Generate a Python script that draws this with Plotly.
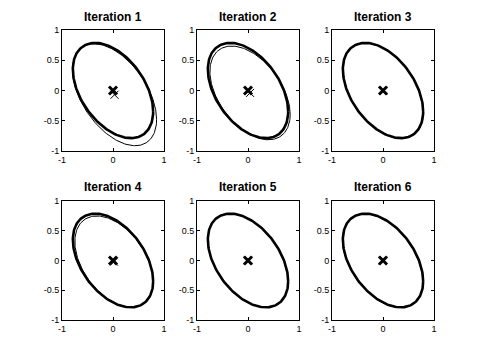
import numpy as np
import plotly.graph_objects as go

# true ellipse (thick): centre and covariance entries
true_mean = [0.0, 0.0]
true_cov = [0.62, 0.62, -0.275]  # s11, s22, s12

# estimated ellipse per iteration (thin)
titles = ["Iteration 1", "Iteration 2", "Iteration 3", "Iteration 4", "Iteration 5", "Iteration 6"]
est_mx = [0.03, 0.04, 0.005, 0.02, 0.0, -0.005]
est_my = [-0.07, -0.04, -0.005, -0.02, 0.0, -0.005]
est_s11 = [0.68, 0.62, 0.62, 0.59, 0.62, 0.62]
est_s22 = [0.71, 0.60, 0.62, 0.59, 0.62, 0.62]
est_s12 = [-0.34, -0.28, -0.275, -0.26, -0.275, -0.275]

y_ticks = [-1, -0.5, 0, 0.5, 1]
y_labels = ["-1", "-0.5", "0", "0.5", "1"]
x_ticks = [-1, 0, 1]
x_labels = ["-1", "0", "1"]

# page body has an 8px margin, so the figure sits at (8, 8)
OFF = 8
W, H = 480 - OFF, 360 - OFF
col_px = [(62, 164), (197, 299), (332, 434)]
row_px = [(30, 151), (201, 320)]
title_px = [17, 187]

t = np.linspace(0, 2 * np.pi, 200)


def ellipse(mx, my, s11, s22, s12):
    L = np.linalg.cholesky(np.array([[s11, s12], [s12, s22]]))
    pts = L @ np.vstack([np.cos(t), np.sin(t)])
    return mx + pts[0], my + pts[1]


fig = go.Figure()
annotations = []
for i, title in enumerate(titles):
    r, c = divmod(i, 3)
    n = "" if i == 0 else str(i + 1)
    xa, ya = "x" + n, "y" + n

    ex, ey = ellipse(est_mx[i], est_my[i], est_s11[i], est_s22[i], est_s12[i])
    fig.add_trace(go.Scatter(x=ex, y=ey, mode="lines", line=dict(color="black", width=1),
                             xaxis=xa, yaxis=ya, showlegend=False, hoverinfo="skip"))
    tx, ty = ellipse(true_mean[0], true_mean[1], *true_cov)
    fig.add_trace(go.Scatter(x=tx, y=ty, mode="lines", line=dict(color="black", width=2.6),
                             xaxis=xa, yaxis=ya, showlegend=False, hoverinfo="skip"))
    fig.add_trace(go.Scatter(x=[est_mx[i]], y=[est_my[i]], mode="markers",
                             marker=dict(symbol="x-thin", size=8, line=dict(color="black", width=1)),
                             xaxis=xa, yaxis=ya, showlegend=False))
    fig.add_trace(go.Scatter(x=[true_mean[0]], y=[true_mean[1]], mode="markers",
                             marker=dict(symbol="x-thin", size=8, line=dict(color="black", width=3)),
                             xaxis=xa, yaxis=ya, showlegend=False))

    x0, x1 = [p - OFF for p in col_px[c]]
    y0, y1 = [p - OFF for p in row_px[r]]
    axis_common = dict(showgrid=False, zeroline=False, showline=True, mirror="ticks",
                       linecolor="black", linewidth=1, ticks="inside", ticklen=3,
                       tickcolor="black", range=[-1, 1], automargin=False,
                       tickfont=dict(family="Liberation Sans, Arial", size=9, color="black"))
    fig.layout["xaxis" + n] = dict(axis_common, domain=[x0 / W, x1 / W], anchor=ya,
                                   tickvals=x_ticks, ticktext=x_labels)
    fig.layout["yaxis" + n] = dict(axis_common, domain=[1 - y1 / H, 1 - y0 / H], anchor=xa,
                                   tickvals=y_ticks, ticktext=y_labels)
    annotations.append(dict(text="<b>" + title + "</b>", xref="paper", yref="paper",
                            x=(x0 + x1) / 2 / W, y=1 - (title_px[r] - OFF) / H,
                            xanchor="center", yanchor="middle", showarrow=False,
                            font=dict(family="Liberation Sans, Arial", size=12, color="black")))

fig.update_layout(width=W, height=H, margin=dict(l=0, r=0, t=0, b=0),
                  plot_bgcolor="white", paper_bgcolor="white", annotations=annotations)

fig.write_html("out.html")
